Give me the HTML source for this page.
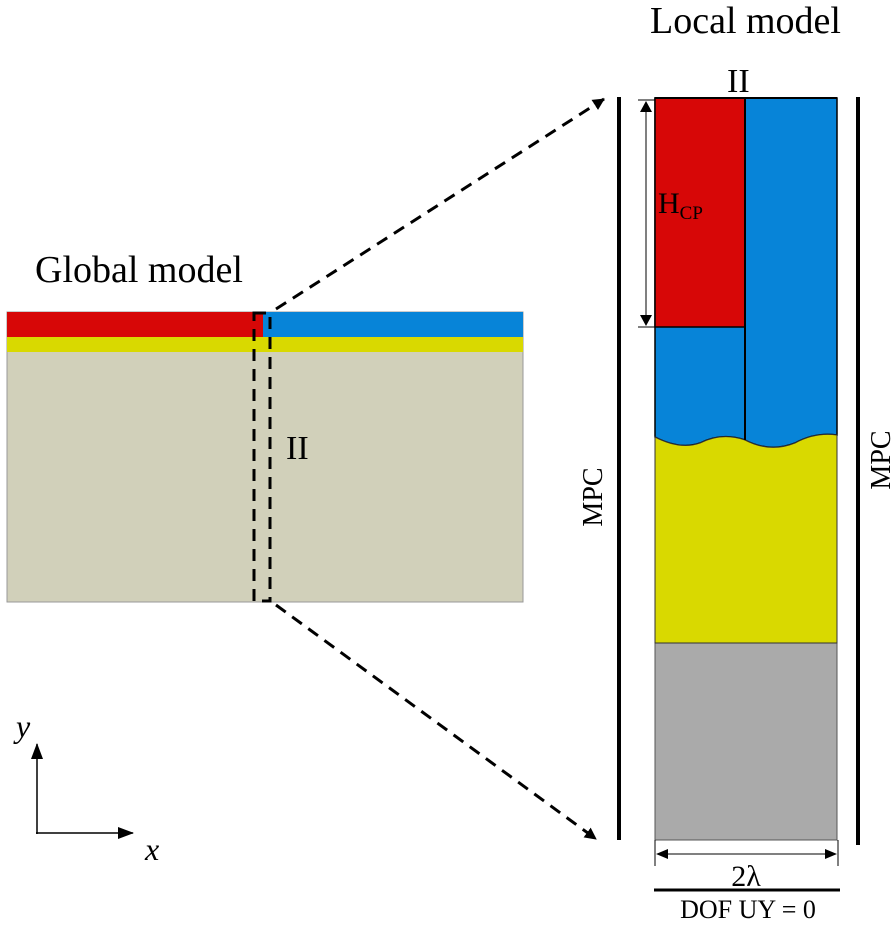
<!DOCTYPE html>
<html><head><style>body{margin:0;background:#fff}svg{display:block}</style></head><body>
<svg width="896" height="925" viewBox="0 0 896 925" xmlns="http://www.w3.org/2000/svg" font-family="Liberation Serif, serif">
<defs>
<marker id="ah" markerWidth="12" markerHeight="12" refX="11" refY="6" orient="auto" markerUnits="userSpaceOnUse"><path d="M0,0 L12,6 L0,12 Z" fill="#000"/></marker>
<marker id="sm" markerWidth="16" markerHeight="12" refX="15" refY="6" orient="auto" markerUnits="userSpaceOnUse"><path d="M0,0 L16,6 L0,12 Z" fill="#000"/></marker>
</defs>
<text x="35" y="282" font-size="38">Global model</text>
<text x="650" y="33" font-size="38">Local model</text>
<!-- global -->
<rect x="7" y="312" width="516" height="290" fill="#d1d0ba" stroke="#999" stroke-width="1"/>
<rect x="7" y="312" width="256" height="25" fill="#d70707"/>
<rect x="263" y="312" width="260" height="25" fill="#0784d8"/>
<rect x="7" y="337" width="516" height="15" fill="#d9d900"/>
<rect x="254" y="313" width="16" height="288" fill="none" stroke="#000" stroke-width="3" stroke-dasharray="12,8"/>
<text x="286" y="459" font-size="34">II</text>
<line x1="276" y1="309" x2="604" y2="99" stroke="#000" stroke-width="3" stroke-dasharray="12,8" marker-end="url(#ah)"/>
<line x1="276" y1="605" x2="596" y2="839" stroke="#000" stroke-width="3" stroke-dasharray="12,8" marker-end="url(#ah)"/>
<!-- local -->
<rect x="655" y="98" width="182" height="742" fill="#aaa" stroke="#555" stroke-width="1"/>
<path d="M655,98 H837 V435 Q815,432 795,443 Q770,453 745,440 Q722,432 700,443 Q680,450 655,437 Z" fill="#0784d8" stroke="#000" stroke-width="1.5"/>
<path d="M655,437 Q680,450 700,443 Q722,432 745,440 Q770,453 795,443 Q815,432 837,435 V643 H655 Z" fill="#d9d900" stroke="#333" stroke-width="1"/>
<rect x="655" y="98" width="90" height="229" fill="#d70707" stroke="#000" stroke-width="1.5"/>
<line x1="745" y1="98" x2="745" y2="440" stroke="#000" stroke-width="2"/>
<line x1="655" y1="98" x2="837" y2="98" stroke="#000" stroke-width="2"/>
<text x="727" y="92" font-size="34">II</text>
<line x1="619" y1="97" x2="619" y2="840" stroke="#000" stroke-width="4"/>
<line x1="858" y1="97" x2="858" y2="845" stroke="#000" stroke-width="4"/>
<text font-size="28" transform="translate(602,497) rotate(-90)" text-anchor="middle">MPC</text>
<text font-size="28" transform="translate(890,460) rotate(-90)" text-anchor="middle">MPC</text>
<line x1="638" y1="100" x2="655" y2="100" stroke="#000" stroke-width="1"/>
<line x1="638" y1="327" x2="655" y2="327" stroke="#000" stroke-width="1"/>
<line x1="646" y1="110" x2="646" y2="317" stroke="#000" stroke-width="1"/>
<path d="M640,112 L652,112 L646,101 Z M640,315 L652,315 L646,326 Z" fill="#000"/>
<text x="658" y="213" font-size="30">H<tspan font-size="19" dy="6">CP</tspan></text>
<line x1="655" y1="840" x2="655" y2="866" stroke="#000" stroke-width="1"/>
<line x1="838" y1="840" x2="838" y2="866" stroke="#000" stroke-width="1"/>
<line x1="658" y1="854" x2="835" y2="854" stroke="#000" stroke-width="1"/>
<path d="M656,854 L668,849 L668,859 Z M837,854 L825,849 L825,859 Z" fill="#000"/>
<text x="746" y="886" font-size="30" text-anchor="middle">2λ</text>
<line x1="654" y1="890" x2="840" y2="890" stroke="#000" stroke-width="3"/>
<text x="748" y="918" font-size="26" text-anchor="middle">DOF UY = 0</text>
<!-- axes -->
<line x1="37" y1="834" x2="37" y2="744" stroke="#000" stroke-width="1.5" marker-end="url(#sm)"/>
<line x1="36" y1="833" x2="133" y2="833" stroke="#000" stroke-width="1.5" marker-end="url(#sm)"/>
<text x="16" y="737" font-size="32" font-style="italic">y</text>
<text x="145" y="860" font-size="32" font-style="italic">x</text>
</svg>
</body></html>
